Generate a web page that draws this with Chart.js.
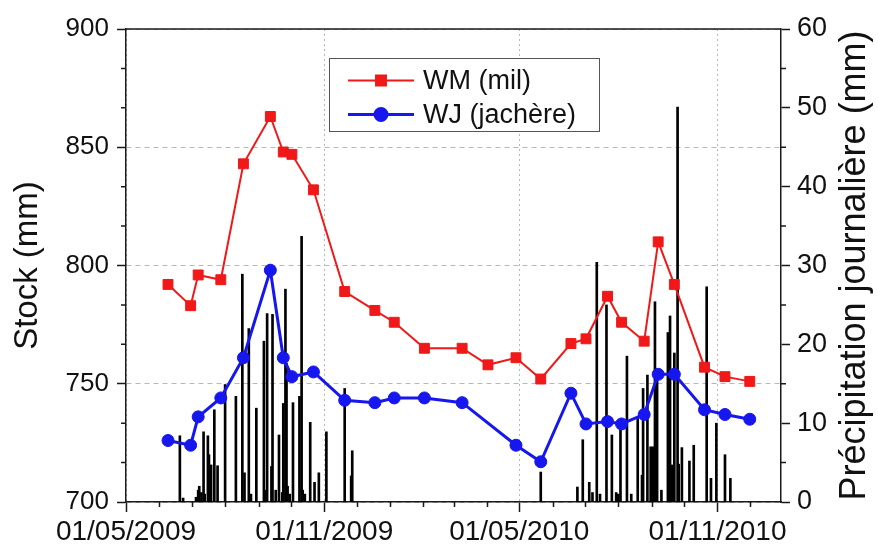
<!DOCTYPE html>
<html>
<head>
<meta charset="utf-8">
<script src="https://cdn.jsdelivr.net/npm/chart.js@4.4.0/dist/chart.umd.min.js"></script>
<style>
  html, body { margin: 0; padding: 0; background: #fff; }
  canvas { display: block; }
</style>
</head>
<body>
<canvas id="stockChart" width="878" height="545"></canvas>
<script>
// axis range and labels
const xStart = '01/05/2009';
const xEnd = '30/12/2010';
const xTickDates = ['01/05/2009', '01/11/2009', '01/05/2010', '01/11/2010'];
const stockTicks = [700, 750, 800, 850, 900];
const rainTicks = [0, 10, 20, 30, 40, 50, 60];

// soil water stock (mm), same survey dates for both plots
const surveyDates = [
    '09/06/2009', '30/06/2009', '07/07/2009', '28/07/2009', '18/08/2009', '12/09/2009',
    '24/09/2009', '02/10/2009', '22/10/2009', '20/11/2009', '18/12/2009', '05/01/2010',
    '02/02/2010', '09/03/2010', '02/04/2010', '28/04/2010', '21/05/2010', '18/06/2010',
    '02/07/2010', '22/07/2010', '04/08/2010', '25/08/2010', '07/09/2010', '22/09/2010',
    '20/10/2010', '08/11/2010', '01/12/2010'
];
const wmStock = [792, 783, 796, 794, 843, 863, 848, 847, 832, 789, 781, 776,
    765, 765, 758, 761, 752, 767, 769, 787, 776, 768, 810, 792, 757, 753, 751];
const wjStock = [726, 724, 736, 744, 761, 798, 761, 753, 755, 743, 742, 744,
    744, 742, null, 724, 717, 746, 733, 734, 733, 737, 754, 754, 739, 737, 735];

// daily rainfall (mm)
const rainDates = [
    '20/06/2009', '23/06/2009', '05/07/2009', '07/07/2009', '08/07/2009', '10/07/2009',
    '12/07/2009', '13/07/2009', '16/07/2009', '17/07/2009', '19/07/2009', '22/07/2009',
    '25/07/2009', '01/08/2009', '11/08/2009', '17/08/2009', '19/08/2009', '23/08/2009',
    '25/08/2009', '30/08/2009', '06/09/2009', '07/09/2009', '09/09/2009', '13/09/2009',
    '14/09/2009', '17/09/2009', '20/09/2009', '23/09/2009', '24/09/2009', '26/09/2009',
    '27/09/2009', '28/09/2009', '30/09/2009', '03/10/2009', '09/10/2009', '11/10/2009',
    '12/10/2009', '14/10/2009', '19/10/2009', '23/10/2009', '27/10/2009', '03/11/2009',
    '20/11/2009', '26/11/2009', '27/11/2009',
    '21/05/2010', '24/06/2010', '29/06/2010', '05/07/2010', '08/07/2010', '12/07/2010',
    '15/07/2010', '21/07/2010', '26/07/2010', '30/07/2010', '01/08/2010', '03/08/2010',
    '09/08/2010', '13/08/2010', '19/08/2010', '23/08/2010', '24/08/2010', '28/08/2010',
    '31/08/2010', '02/09/2010', '04/09/2010', '06/09/2010', '10/09/2010', '16/09/2010',
    '18/09/2010', '20/09/2010', '22/09/2010', '25/09/2010', '26/09/2010', '29/09/2010',
    '06/10/2010', '10/10/2010', '22/10/2010', '26/10/2010', '31/10/2010', '08/11/2010',
    '13/11/2010'
];
const rainMm = [
    8.4, 0.5, 0.6, 1.5, 2.0, 1.2,
    8.9, 1.0, 8.4, 6.0, 4.7, 11.7,
    4.6, 14.9, 13.4, 28.9, 3.7, 22.0,
    1.0, 11.9, 20.4, 1.5, 23.9, 4.5,
    23.8, 1.5, 8.5, 1.2, 12.5, 27.0,
    17.6, 2.0, 1.0, 12.6, 13.4, 33.7,
    1.5, 1.0, 10.1, 2.5, 3.7, 8.9,
    14.4, 3.3, 6.5,
    3.8, 1.9, 7.9, 2.5, 1.2, 30.4,
    1.0, 25.0, 8.5, 1.2, 1.0, 10.1,
    18.5, 1.0, 10.6, 3.4, 14.4, 16.1,
    7.0, 7.0, 25.4, 15.9, 1.5, 21.5,
    23.6, 4.7, 18.9, 50.1, 4.8, 6.9,
    5.2, 7.2, 27.3, 3.0, 10.0, 6.0,
    3.0
];

const FONT = "'Liberation Sans', Arial, Helvetica, sans-serif";
const AXIS_COLOR = '#1a1a1a';
const GRID_COLOR = '#b8b8b8';
const RED = '#f01818';
const BLUE = '#1616ee';

const DAY_ZERO = Date.UTC(2009, 4, 1);
function dayOf(s) {
    const [d, m, y] = s.split('/').map(Number);
    return (Date.UTC(y, m - 1, d) - DAY_ZERO) / 86400000;
}

const wmPoints = surveyDates.map((d, i) => ({ x: dayOf(d), y: wmStock[i] }));
const wjPoints = surveyDates.map((d, i) => ({ x: dayOf(d), y: wjStock[i] }));
const rainPoints = rainDates.map((d, i) => ({ x: dayOf(d), y: rainMm[i] }));

// first day of every month in range, used for the small x ticks
const monthStarts = [];
for (let y = 2009, m = 5; y < 2011; m++) {
    if (m > 12) { m = 1; y++; }
    if (y > 2010) break;
    monthStarts.push(dayOf('01/' + m + '/' + y));
}

// minor ticks, top frame line
const framePlugin = {
    id: 'frame',
    afterDraw(chart) {
        const { ctx, chartArea: a, scales } = chart;
        const majorX = xTickDates.map(dayOf);
        ctx.save();
        ctx.strokeStyle = AXIS_COLOR;
        ctx.lineWidth = 1.5;
        ctx.beginPath();
        monthStarts.forEach(v => {
            if (majorX.includes(v)) return;
            const px = Math.round(scales.x.getPixelForValue(v)) + 0.5;
            ctx.moveTo(px, a.bottom);
            ctx.lineTo(px, a.bottom + 5);
        });
        for (let i = 0; i < stockTicks.length - 1; i++) {
            const step = (stockTicks[i + 1] - stockTicks[i]) / 3;
            [1, 2].forEach(k => {
                const py = scales.y.getPixelForValue(stockTicks[i] + k * step);
                ctx.moveTo(a.left, py);
                ctx.lineTo(a.left - 5, py);
            });
        }
        for (let i = 0; i < rainTicks.length - 1; i++) {
            const py = scales.y2.getPixelForValue((rainTicks[i] + rainTicks[i + 1]) / 2);
            ctx.moveTo(a.right, py);
            ctx.lineTo(a.right + 5, py);
        }
        ctx.moveTo(a.left, a.top);
        ctx.lineTo(a.right, a.top);
        ctx.stroke();
        ctx.restore();
    }
};

// rotated axis titles, both reading bottom to top
const axisTitles = {
    id: 'axisTitles',
    afterDraw(chart) {
        const { ctx, chartArea: a } = chart;
        const cy = (a.top + a.bottom) / 2;
        ctx.save();
        ctx.fillStyle = '#111';
        ctx.textAlign = 'center';
        ctx.textBaseline = 'middle';
        [[28, 33, 'Stock (mm)'], [855, 36, 'Précipitation journalière (mm)']].forEach(([x, size, text]) => {
            ctx.save();
            ctx.font = size + 'px ' + FONT;
            ctx.translate(x, cy);
            ctx.rotate(-Math.PI / 2);
            ctx.fillText(text, 0, 0);
            ctx.restore();
        });
        ctx.restore();
    }
};

// boxed legend inside the plot
const insetLegend = {
    id: 'insetLegend',
    afterDraw(chart) {
        const { ctx } = chart;
        const box = { x: 329.5, y: 58.5, w: 270, h: 73 };
        ctx.save();
        ctx.fillStyle = '#fff';
        ctx.fillRect(box.x, box.y, box.w, box.h);
        ctx.strokeStyle = '#555';
        ctx.lineWidth = 1;
        ctx.strokeRect(box.x, box.y, box.w, box.h);
        ctx.font = '27px ' + FONT;
        ctx.textBaseline = 'middle';
        ctx.fillStyle = '#111';
        [0, 1].forEach(i => {
            const ds = chart.data.datasets[i];
            const y = box.y + 22 + i * 34;
            ctx.strokeStyle = ds.borderColor;
            ctx.lineWidth = ds.borderWidth;
            ctx.beginPath();
            ctx.moveTo(348, y);
            ctx.lineTo(414, y);
            ctx.stroke();
            Chart.helpers.drawPoint(ctx, {
                pointStyle: ds.pointStyle,
                radius: ds.pointRadius,
                borderWidth: 1,
                rotation: 0
            }, 381, y);
            ctx.fillStyle = ds.backgroundColor;
            ctx.fill();
            ctx.fillStyle = '#111';
            ctx.fillText(ds.label, 423, y + 1);
        });
        ctx.restore();
    }
};

new Chart(document.getElementById('stockChart'), {
    type: 'line',
    data: {
        datasets: [
            {
                label: 'WM (mil)',
                data: wmPoints,
                yAxisID: 'y',
                borderColor: RED,
                backgroundColor: RED,
                borderWidth: 2,
                pointStyle: 'rect',
                pointRadius: 7,
                pointBorderWidth: 1,
                tension: 0,
                order: 2
            },
            {
                label: 'WJ (jachère)',
                data: wjPoints,
                yAxisID: 'y',
                borderColor: BLUE,
                backgroundColor: BLUE,
                borderWidth: 3,
                pointStyle: 'circle',
                pointRadius: 6,
                pointBorderWidth: 1,
                spanGaps: true,
                tension: 0,
                order: 1
            },
            {
                type: 'bar',
                label: 'Pluie',
                data: rainPoints,
                yAxisID: 'y2',
                backgroundColor: '#000',
                barThickness: 2,
                order: 3
            }
        ]
    },
    options: {
        responsive: false,
        devicePixelRatio: 1,
        animation: false,
        layout: { padding: { top: 29, left: 0, right: 0, bottom: 0 } },
        plugins: {
            legend: { display: false },
            tooltip: { enabled: false }
        },
        scales: {
            x: {
                type: 'linear',
                offset: false,
                min: dayOf(xStart),
                max: dayOf(xEnd),
                afterBuildTicks: scale => {
                    scale.ticks = xTickDates.map(s => ({ value: dayOf(s) }));
                },
                afterFit: scale => { scale.height = 43; },
                ticks: {
                    autoSkip: false,
                    maxRotation: 0,
                    padding: 3,
                    color: '#111',
                    font: { family: FONT, size: 28 },
                    callback: value => xTickDates.find(s => dayOf(s) === value) || ''
                },
                grid: {
                    offset: false,
                    color: GRID_COLOR,
                    lineWidth: 1,
                    tickLength: 10,
                    tickColor: AXIS_COLOR,
                    tickWidth: 1.5
                },
                border: { color: AXIS_COLOR, width: 1.5, dash: [2, 3] }
            },
            y: {
                position: 'left',
                min: stockTicks[0],
                max: stockTicks[stockTicks.length - 1],
                afterBuildTicks: scale => {
                    scale.ticks = stockTicks.map(v => ({ value: v }));
                },
                afterFit: scale => { scale.width = 126; },
                ticks: {
                    padding: 8,
                    color: '#111',
                    font: { family: FONT, size: 26 }
                },
                grid: {
                    color: GRID_COLOR,
                    lineWidth: 1,
                    tickLength: 9,
                    tickColor: AXIS_COLOR,
                    tickWidth: 1.5
                },
                border: { color: AXIS_COLOR, width: 1.5, dash: [5, 4] }
            },
            y2: {
                position: 'right',
                min: rainTicks[0],
                max: rainTicks[rainTicks.length - 1],
                afterBuildTicks: scale => {
                    scale.ticks = rainTicks.map(v => ({ value: v }));
                },
                afterFit: scale => { scale.width = 97; },
                ticks: {
                    padding: 7,
                    color: '#111',
                    font: { family: FONT, size: 27 }
                },
                grid: {
                    drawOnChartArea: false,
                    tickLength: 9,
                    tickColor: AXIS_COLOR,
                    tickWidth: 1.5
                },
                border: { color: AXIS_COLOR, width: 1.5 }
            }
        }
    },
    plugins: [framePlugin, axisTitles, insetLegend]
});
</script>
</body>
</html>
